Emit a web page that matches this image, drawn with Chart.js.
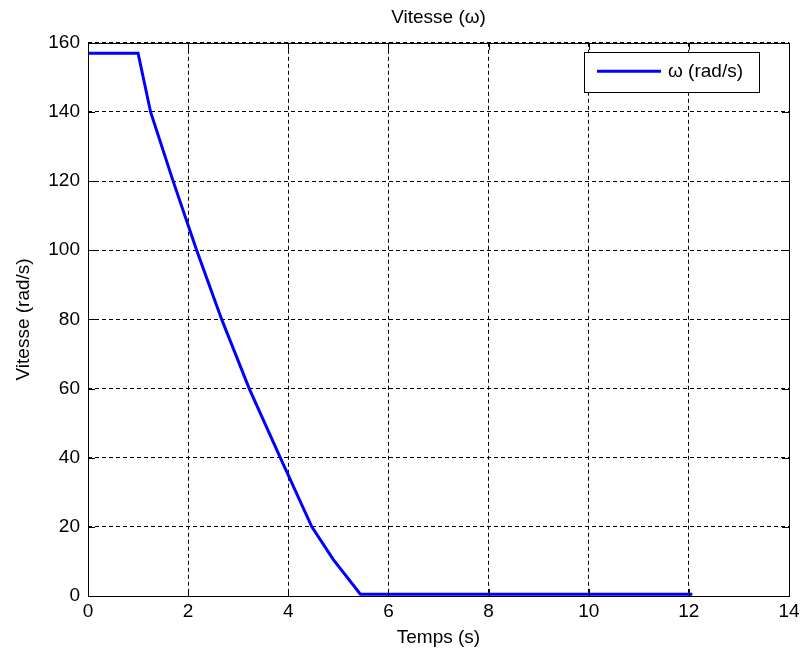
<!DOCTYPE html>
<html>
<head>
<meta charset="utf-8">
<script src="https://cdn.jsdelivr.net/npm/chart.js@4.4.1/dist/chart.umd.min.js"></script>
<style>
  html, body { margin: 0; padding: 0; background: #fff; }
  #wrap { width: 800px; height: 657px; }
</style>
</head>
<body>
<div id="wrap"><canvas id="c" width="800" height="657"></canvas></div>
<script>
// ---- data ----
const timeS   = [0, 1.0, 1.25, 1.70, 2.17, 2.67, 3.22, 3.84, 4.47, 4.90, 5.44, 12.07];
const omega   = [157, 157, 140, 120, 100, 80, 60, 40, 20, 10.5, 0.5, 0.5];
const xTicks  = [0, 2, 4, 6, 8, 10, 12, 14];
const yTicks  = [0, 20, 40, 60, 80, 100, 120, 140, 160];
const seriesLabel = 'ω (rad/s)';
const chartTitle  = 'Vitesse (ω)';
const xTitle = 'Temps (s)';
const yTitle = 'Vitesse (rad/s)';

const FONT = 'Liberation Sans, Arial, sans-serif';
const points = timeS.map((t, i) => ({ x: t, y: omega[i] }));

const boxPlugin = {
  id: 'boxPlugin',
  afterDraw(chart) {
    const { ctx, chartArea: a, scales } = chart;
    ctx.save();
    // inner tick marks
    ctx.strokeStyle = '#000';
    ctx.lineWidth = 1;
    const L = 7;
    ctx.beginPath();
    xTicks.forEach(v => {
      const px = Math.round(scales.x.getPixelForValue(v)) + 0.5;
      ctx.moveTo(px, a.bottom); ctx.lineTo(px, a.bottom - L);
      ctx.moveTo(px, a.top); ctx.lineTo(px, a.top + L);
    });
    yTicks.forEach(v => {
      const py = Math.round(scales.y.getPixelForValue(v)) + 0.5;
      ctx.moveTo(a.left, py); ctx.lineTo(a.left + L, py);
      ctx.moveTo(a.right, py); ctx.lineTo(a.right - L, py);
    });
    ctx.stroke();
    // frame
    ctx.strokeRect(Math.round(a.left) + 0.5, Math.round(a.top) + 0.5,
                   Math.round(a.right - a.left), Math.round(a.bottom - a.top));
    // legend
    const ds = chart.data.datasets[0];
    const bx = a.right - 205, by = a.top + 9, bw = 175, bh = 40;
    ctx.fillStyle = '#fff';
    ctx.fillRect(bx, by, bw, bh);
    ctx.strokeRect(Math.round(bx) + 0.5, Math.round(by) + 0.5, bw, bh);
    ctx.strokeStyle = ds.borderColor;
    ctx.lineWidth = 3;
    ctx.beginPath();
    ctx.moveTo(bx + 13, by + 19.5);
    ctx.lineTo(bx + 77, by + 19.5);
    ctx.stroke();
    ctx.fillStyle = '#000';
    ctx.font = '19px ' + FONT;
    ctx.textBaseline = 'middle';
    ctx.textAlign = 'left';
    ctx.fillText(ds.label, bx + 84, by + 20);
    ctx.restore();
  }
};

new Chart(document.getElementById('c'), {
  type: 'line',
  data: {
    datasets: [{
      label: seriesLabel,
      data: points,
      borderColor: '#0000ff',
      backgroundColor: '#0000ff',
      borderWidth: 3,
      pointRadius: 0,
      tension: 0,
      fill: false
    }]
  },
  options: {
    responsive: false,
    animation: false,
    layout: { padding: { left: 0, right: 11, top: 0, bottom: 0 } },
    plugins: {
      legend: { display: false },
      tooltip: { enabled: false },
      title: {
        display: true,
        text: chartTitle,
        fullSize: false,
        color: '#000',
        font: { family: FONT, size: 19, weight: 'normal' },
        padding: { top: 6, bottom: 14 }
      }
    },
    scales: {
      x: {
        type: 'linear',
        min: 0, max: 14,
        afterFit(s) { s.height = 61; s.paddingLeft = 0; s.paddingRight = 0; },
        afterBuildTicks(s) { s.ticks = xTicks.map(v => ({ value: v })); },
        ticks: { color: '#000', padding: 4, font: { family: FONT, size: 19 }, maxRotation: 0 },
        grid: { color: '#000', lineWidth: 1, drawTicks: false },
        border: { display: false, dash: [4, 3] },
        title: { display: true, text: xTitle, color: '#000', font: { family: FONT, size: 19 }, padding: { top: 0, bottom: 8 } }
      },
      y: {
        type: 'linear',
        min: 0, max: 160,
        afterFit(s) { s.width = 88; s.paddingTop = 0; s.paddingBottom = 0; },
        afterBuildTicks(s) { s.ticks = yTicks.map(v => ({ value: v })); },
        ticks: { color: '#000', padding: 8, font: { family: FONT, size: 19 } },
        grid: { color: '#000', lineWidth: 1, drawTicks: false },
        border: { display: false, dash: [4, 3] },
        title: { display: true, text: yTitle, color: '#000', font: { family: FONT, size: 19 }, padding: { top: 12, bottom: 0 } }
      }
    }
  },
  plugins: [boxPlugin]
});
</script>
</body>
</html>
